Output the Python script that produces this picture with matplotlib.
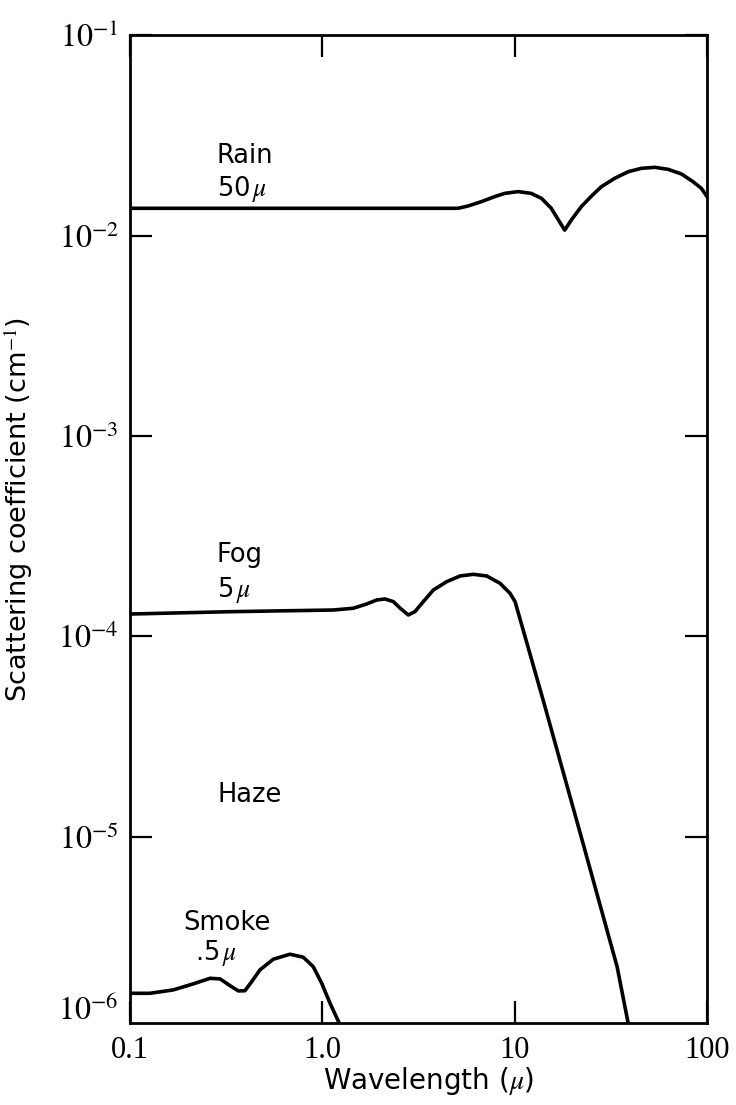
import matplotlib
matplotlib.use("Agg")
import matplotlib.pyplot as plt
import matplotlib.transforms as mtransforms
from matplotlib.ticker import FixedLocator, FixedFormatter, NullLocator

plt.rcParams['font.family'] = ['DejaVu Sans']
plt.rcParams['mathtext.fontset'] = 'stix'

# ---- data ----
rain_x = [0.1, 1.0, 5.08, 5.72, 6.71, 7.87, 8.87, 10.42, 12.2, 13.8, 15.5, 17.1, 18.2, 19.7, 22.2,
          25.1, 28.2, 33.1, 38.9, 45.6, 53.6, 62.8, 73.6, 84.7, 93.5, 100]
rain_y = [0.01367, 0.01367, 0.01367, 0.01403, 0.01475, 0.01563, 0.01622, 0.01656, 0.01622, 0.01531,
          0.01367, 0.01172, 0.01064, 0.01194, 0.01393, 0.01574, 0.01750, 0.01928, 0.02080, 0.02163,
          0.02188, 0.02138, 0.02028, 0.01854, 0.01718, 0.01563]

fog_x = [0.1, 0.344, 1.14, 1.45, 1.70, 1.92, 2.12, 2.34, 2.54, 2.80, 3.03, 3.35, 3.78, 4.43, 5.20,
         6.10, 7.16, 8.40, 9.46, 10.05, 14.06, 21.9, 34.1, 38.9]
fog_y = [1.294e-4, 1.330e-4, 1.355e-4, 1.383e-4, 1.452e-4, 1.521e-4, 1.538e-4, 1.492e-4, 1.383e-4,
         1.280e-4, 1.330e-4, 1.492e-4, 1.706e-4, 1.876e-4, 2.003e-4, 2.042e-4, 2.003e-4, 1.841e-4,
         1.641e-4, 1.492e-4, 4.82e-5, 1.047e-5, 2.25e-6, 1.18e-6]

smoke_x = [0.1, 0.127, 0.168, 0.213, 0.261, 0.294, 0.331, 0.366, 0.396, 0.430, 0.474, 0.556, 0.679,
           0.796, 0.897, 0.993, 1.096, 1.225]
smoke_y = [1.660e-6, 1.660e-6, 1.726e-6, 1.849e-6, 1.972e-6, 1.958e-6, 1.813e-6, 1.706e-6, 1.71e-6,
           1.901e-6, 2.173e-6, 2.455e-6, 2.600e-6, 2.512e-6, 2.254e-6, 1.862e-6, 1.483e-6, 1.177e-6]

x_ticks = [0.1, 1.0, 10, 100]
x_ticklabels = ['0.1', '1.0', '10', '100']
y_ticks = [1e-1, 1e-2, 1e-3, 1e-4, 1e-5]
y_ticklabels = [r'$10^{-1}$', r'$10^{-2}$', r'$10^{-3}$', r'$10^{-4}$', r'$10^{-5}$']
y_extra_label = r'$10^{-6}$'

# ---- figure ----
fig = plt.figure(figsize=(7.36, 11.05), dpi=100)
ax = fig.add_axes([0.1766, 0.0742, 0.784, 0.8941])
ax.set_xscale('log')
ax.set_yscale('log')
ax.set_xlim(0.1, 100)
ax.set_ylim(1.18e-6, 0.1)

lw = 2.6
for xs, ys in ((rain_x, rain_y), (fog_x, fog_y), (smoke_x, smoke_y)):
    ax.plot(xs, ys, color='black', lw=lw, solid_joinstyle='round', solid_capstyle='round')

for s in ax.spines.values():
    s.set_linewidth(2.0)

ax.xaxis.set_major_locator(FixedLocator(x_ticks))
ax.xaxis.set_major_formatter(FixedFormatter(x_ticklabels))
ax.yaxis.set_major_locator(FixedLocator(y_ticks))
ax.yaxis.set_major_formatter(FixedFormatter(y_ticklabels))
ax.xaxis.set_minor_locator(NullLocator())
ax.yaxis.set_minor_locator(NullLocator())

ax.tick_params(which='major', direction='in', length=16, width=1.6,
               top=True, right=True)
ax.tick_params(axis='x', pad=9, labelsize=22)
ax.tick_params(axis='y', pad=8, labelsize=23)
for lab in ax.get_xticklabels():
    lab.set_fontfamily('Liberation Serif')

trans = mtransforms.blended_transform_factory(ax.transAxes, ax.transData)
ax.text(-0.021, 1.355e-6, y_extra_label, transform=trans, ha='right', va='center', fontsize=23)

ax.set_xlabel(r'Wavelength ($\mu$)', fontsize=20, labelpad=4)
ax.xaxis.set_label_coords(0.518, -0.042)
ax.set_ylabel(r'Scattering coefficient (cm$^{-1}$)', fontsize=19.5)
ax.yaxis.set_label_coords(-0.165, 0.52)

fs = 18.5
ax.text(0.283, 0.0230, 'Rain', fontsize=fs, va='baseline', ha='left')
ax.text(0.283, 0.0157, r'50$\,\mu$', fontsize=fs, va='baseline', ha='left')
ax.text(0.283, 2.35e-4, 'Fog', fontsize=fs, va='baseline', ha='left')
ax.text(0.285, 1.574e-4, r'5$\,\mu$', fontsize=fs, va='baseline', ha='left')
ax.text(0.285, 1.496e-5, 'Haze', fontsize=fs, va='baseline', ha='left')
ax.text(0.189, 3.44e-6, 'Smoke', fontsize=fs, va='baseline', ha='left')
ax.text(0.218, 2.44e-6, r'.5$\,\mu$', fontsize=fs, va='baseline', ha='left')

fig.savefig('out.png', dpi=100)
